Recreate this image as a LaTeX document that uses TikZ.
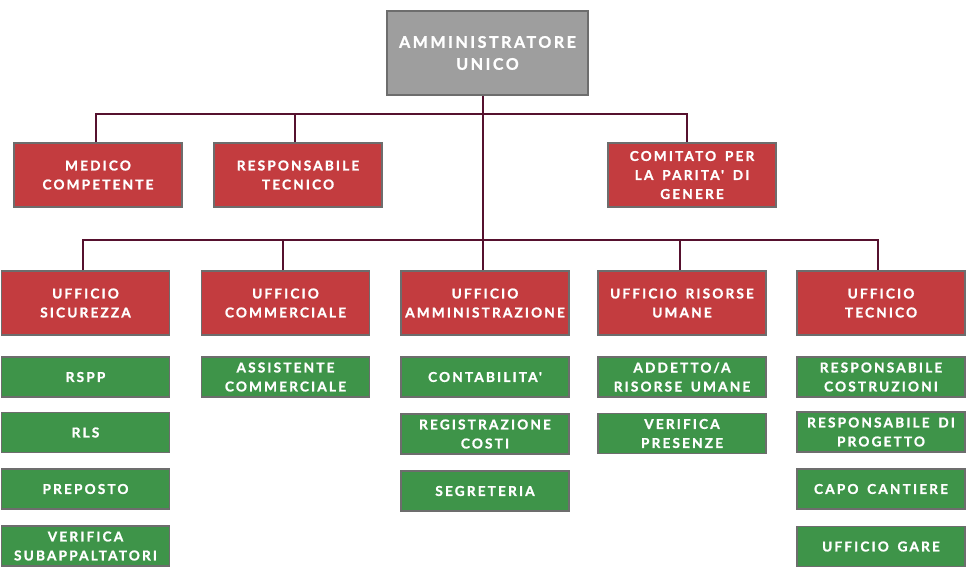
\documentclass[tikz,border=0pt]{standalone}
\usepackage{fontspec}
\newfontfamily\boxfont{Lato}[LetterSpace=16,Ligatures=TeXOff,WordSpace=1.6,BoldFeatures={FakeBold=1.2}]
\definecolor{redfill}{HTML}{C33C3F}
\definecolor{greenfill}{HTML}{3E9449}
\definecolor{grayfill}{HTML}{9E9E9E}
\definecolor{edge}{HTML}{6D6D6D}
\definecolor{wire}{HTML}{56112E}
\tikzset{
  box/.style={draw=edge, line width=1.4pt, rectangle, inner sep=0pt, align=center,
    text=white, font=\boxfont\bfseries\fontsize{13.6}{19}\selectfont,
    minimum width=168pt, minimum height=64pt},
  topbox/.style={box, fill=grayfill, minimum width=201pt, minimum height=84pt,
    font=\boxfont\bfseries\fontsize{16}{22}\selectfont},
  redbox/.style={box, fill=redfill},
  greenbox/.style={box, fill=greenfill, minimum height=40pt},
  conn/.style={draw=wire, line width=2pt}
}
\begin{document}
\begin{tikzpicture}[x=1pt,y=-1pt]
\useasboundingbox (0,0) rectangle (969,570);
% top
\node[topbox] (au) at (487.5,53) {AMMINISTRATORE\\UNICO};
% row 2
\node[redbox] (mc) at (98,175) {MEDICO\\COMPETENTE};
\node[redbox] (rt) at (298,175) {RESPONSABILE\\TECNICO};
\node[redbox] (cp) at (692,175) {COMITATO PER\\LA PARITA' DI\\GENERE};
% row 3
\node[redbox] (us) at (85.5,303) {UFFICIO\\SICUREZZA};
\node[redbox] (uc) at (285.5,303) {UFFICIO\\COMMERCIALE};
\node[redbox] (ua) at (485,303) {UFFICIO\\AMMINISTRAZIONE};
\node[redbox] (ur) at (682,303) {UFFICIO RISORSE\\UMANE};
\node[redbox] (ut) at (881,303) {UFFICIO\\TECNICO};
% green col 1
\node[greenbox] (s1) at (85.5,377) {RSPP};
\node[greenbox] (s2) at (85.5,432.5) {RLS};
\node[greenbox] (s3) at (85.5,489) {PREPOSTO};
\node[greenbox] (s4) at (85.5,546) {VERIFICA\\SUBAPPALTATORI};
% col 2
\node[greenbox] (c1) at (285.5,377) {ASSISTENTE\\COMMERCIALE};
% col 3
\node[greenbox] (a1) at (485,377) {CONTABILITA'};
\node[greenbox] (a2) at (485,434) {REGISTRAZIONE\\COSTI};
\node[greenbox] (a3) at (485,491) {SEGRETERIA};
% col 4
\node[greenbox] (r1) at (682,377) {ADDETTO/A\\RISORSE UMANE};
\node[greenbox] (r2) at (682,433.5) {VERIFICA\\PRESENZE};
% col 5
\node[greenbox] (t1) at (881,377) {RESPONSABILE\\COSTRUZIONI};
\node[greenbox] (t2) at (881,432) {RESPONSABILE DI\\PROGETTO};
\node[greenbox] (t3) at (881,489) {CAPO CANTIERE};
\node[greenbox] (t4) at (881,546.5) {UFFICIO GARE};
% junctions
\coordinate (j1) at (483,114);
\coordinate (j2) at (483,240);
% connectors
\draw[conn] (au.south -| j2) -- (j2);
\draw[conn] ([xshift=-2.5pt]mc.north) |- (j1) -| ([xshift=-5.5pt]cp.north);
\draw[conn] ([xshift=-3pt]rt.north) -- ([xshift=-3pt]rt.north |- j1);
\draw[conn] ([xshift=-2.5pt]us.north) |- (j2) -| ([xshift=-3pt]ut.north);
\draw[conn] ([xshift=-2.5pt]uc.north) -- ([xshift=-2.5pt]uc.north |- j2);
\draw[conn] ([xshift=-2pt]ua.north) -- ([xshift=-2pt]ua.north |- j2);
\draw[conn] ([xshift=-2pt]ur.north) -- ([xshift=-2pt]ur.north |- j2);
\end{tikzpicture}
\end{document}
